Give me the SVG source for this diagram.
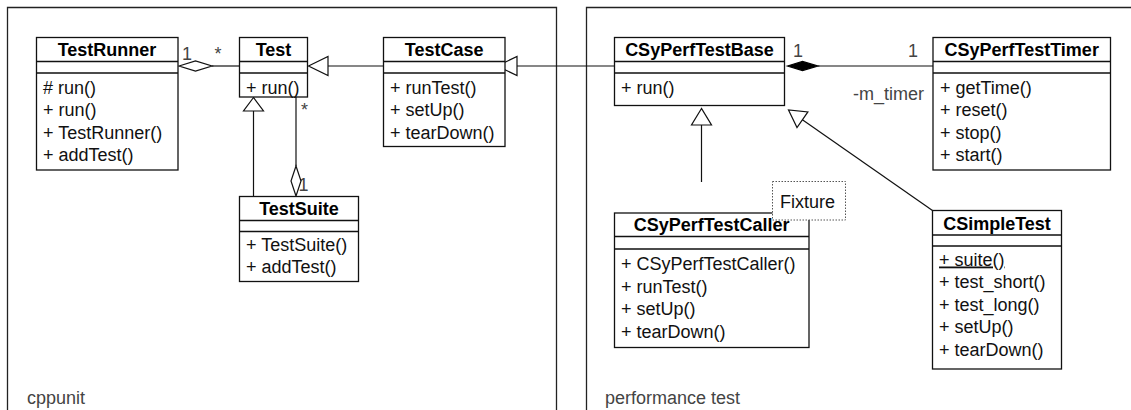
<svg xmlns="http://www.w3.org/2000/svg" width="1131" height="410" viewBox="0 0 1131 410">
  <style>
    text { font-family: "Liberation Sans", Arial, sans-serif; font-size: 18px; fill: #111; }
    .title { font-weight: bold; text-anchor: middle; fill: #000; }
    .lbl { fill: #444; }
    .box { fill: #fff; stroke: #111; stroke-width: 1.3; }
    .sep { stroke: #111; stroke-width: 1.3; fill: none; }
    .pkg { fill: none; stroke: #222; stroke-width: 1.3; }
    .line { fill: none; stroke: #111; stroke-width: 1.2; }
    .hollow { fill: #fff; stroke: #111; stroke-width: 1.2; }
    .solid { fill: #000; stroke: #000; stroke-width: 1.2; }
    .note { fill: #fff; stroke: #555; stroke-width: 1; stroke-dasharray: 1.5 1.5; }
  </style>

  <rect width="1131" height="410" fill="#fff"/>

  <!-- packages -->
  <g id="pkg-cppunit">
    <path class="pkg" d="M7.5,415 V7.5 H556.5 V415"/>
    <text class="lbl" x="27" y="404">cppunit</text>
  </g>
  <g id="pkg-performance">
    <path class="pkg" d="M586.5,415 V7.5 H1140"/>
    <text class="lbl" x="605" y="404">performance test</text>
  </g>

  <!-- connectors, drawn beneath the class boxes -->
  <g id="connectors">
    <!-- TestRunner aggregates Test (1 to many) -->
    <line class="line" x1="212" y1="66" x2="239" y2="66"/>
    <polygon class="hollow" points="179,66 195.5,61 212,66 195.5,71"/>
    <text class="lbl" x="182" y="60">1</text>
    <text class="lbl" x="214.5" y="60">*</text>

    <!-- TestCase generalizes Test -->
    <line class="line" x1="328" y1="66" x2="383.5" y2="66"/>
    <polygon class="hollow" points="308.5,66 328,56.5 328,75.5"/>

    <!-- CSyPerfTestBase generalizes TestCase -->
    <line class="line" x1="517" y1="66" x2="614.5" y2="66"/>
    <polygon class="hollow" points="497,66 517,56.5 517,75.5"/>

    <!-- TestSuite generalizes Test -->
    <line class="line" x1="253.5" y1="111" x2="253.5" y2="196"/>
    <polygon class="hollow" points="253.5,97.5 243.5,111 263.5,111"/>

    <!-- TestSuite aggregates Test -->
    <line class="line" x1="296" y1="97" x2="296" y2="166"/>
    <text class="lbl" x="301" y="116">*</text>
    <text class="lbl" x="298.5" y="190.5">1</text>
    <polygon class="hollow" points="296,166 301,181 296,196 291,181"/>

    <!-- CSyPerfTestBase composes CSyPerfTestTimer -->
    <line class="line" x1="818" y1="66" x2="933" y2="66"/>
    <polygon class="solid" points="787.5,66 802.5,61.5 818,66 802.5,70.5"/>
    <text class="lbl" x="793" y="56.5">1</text>
    <text class="lbl" x="908" y="56.5">1</text>
    <text class="lbl" x="924" y="100" text-anchor="end">-m_timer</text>

    <!-- CSyPerfTestCaller generalizes CSyPerfTestBase -->
    <line class="line" x1="701.5" y1="125" x2="701.5" y2="182"/>
    <polygon class="hollow" points="701.5,108.5 691.5,125 711.5,125"/>

    <!-- CSimpleTest generalizes CSyPerfTestBase -->
    <line class="line" x1="802.4" y1="119.7" x2="932.5" y2="210.5"/>
    <polygon class="hollow" points="788.5,110 797,127.5 807.9,111.9"/>
  </g>

  <!-- cppunit classes -->
  <g id="TestRunner">
    <rect class="box" x="36.5" y="37.5" width="141.5" height="132.5"/>
    <path class="sep" d="M36.5,61.5 H178 M36.5,73 H178"/>
    <text class="title" x="107" y="55.5">TestRunner</text>
    <text x="43" y="93.5"># run()</text>
    <text x="43" y="116.1">+ run()</text>
    <text x="43" y="138.7">+ TestRunner()</text>
    <text x="43" y="161.3">+ addTest()</text>
  </g>

  <g id="Test">
    <rect class="box" x="239.5" y="37.5" width="68" height="59.5"/>
    <path class="sep" d="M239.5,61.5 H307.5 M239.5,73 H307.5"/>
    <text class="title" x="273.5" y="55.5">Test</text>
    <text x="246" y="93.5">+ run()</text>
  </g>

  <g id="TestCase">
    <rect class="box" x="383.5" y="37.5" width="121.5" height="109"/>
    <path class="sep" d="M383.5,61.5 H505 M383.5,73 H505"/>
    <text class="title" x="444.2" y="55.5">TestCase</text>
    <text x="390" y="93.5">+ runTest()</text>
    <text x="390" y="116.1">+ setUp()</text>
    <text x="390" y="138.7">+ tearDown()</text>
  </g>

  <g id="TestSuite">
    <rect class="box" x="239.5" y="196.5" width="119" height="85"/>
    <path class="sep" d="M239.5,220.5 H358.5 M239.5,231.5 H358.5"/>
    <text class="title" x="299" y="214.5">TestSuite</text>
    <text x="246" y="250.5">+ TestSuite()</text>
    <text x="246" y="273.1">+ addTest()</text>
  </g>

  <!-- performance test classes -->
  <g id="CSyPerfTestBase">
    <rect class="box" x="614.5" y="37.5" width="170" height="68"/>
    <path class="sep" d="M614.5,61.5 H784.5 M614.5,73 H784.5"/>
    <text class="title" x="699.5" y="55.5">CSyPerfTestBase</text>
    <text x="621" y="93.5">+ run()</text>
  </g>

  <g id="CSyPerfTestTimer">
    <rect class="box" x="933" y="37.5" width="177.5" height="132.5"/>
    <path class="sep" d="M933,61.5 H1110.5 M933,73 H1110.5"/>
    <text class="title" x="1021.7" y="55.5">CSyPerfTestTimer</text>
    <text x="940" y="93.5">+ getTime()</text>
    <text x="940" y="116.1">+ reset()</text>
    <text x="940" y="138.7">+ stop()</text>
    <text x="940" y="161.3">+ start()</text>
  </g>

  <g id="CSyPerfTestCaller">
    <rect class="box" x="614.5" y="213" width="194.5" height="134.5"/>
    <path class="sep" d="M614.5,236.5 H809 M614.5,249 H809"/>
    <text class="title" x="711.7" y="231">CSyPerfTestCaller</text>
    <text x="621" y="270">+ CSyPerfTestCaller()</text>
    <text x="621" y="292.6">+ runTest()</text>
    <text x="621" y="315.2">+ setUp()</text>
    <text x="621" y="337.8">+ tearDown()</text>
  </g>

  <g id="Fixture">
    <rect class="note" x="772.5" y="181.5" width="73" height="38.5"/>
    <text x="780" y="207.5">Fixture</text>
  </g>

  <g id="CSimpleTest">
    <rect class="box" x="932.5" y="210.5" width="129" height="158.5"/>
    <path class="sep" d="M932.5,235 H1061.5 M932.5,246 H1061.5"/>
    <text class="title" x="997" y="229.5">CSimpleTest</text>
    <text x="939" y="265.5" text-decoration="underline">+ suite()</text>
    <text x="939" y="288.1">+ test_short()</text>
    <text x="939" y="310.7">+ test_long()</text>
    <text x="939" y="333.3">+ setUp()</text>
    <text x="939" y="355.9">+ tearDown()</text>
  </g>
</svg>
